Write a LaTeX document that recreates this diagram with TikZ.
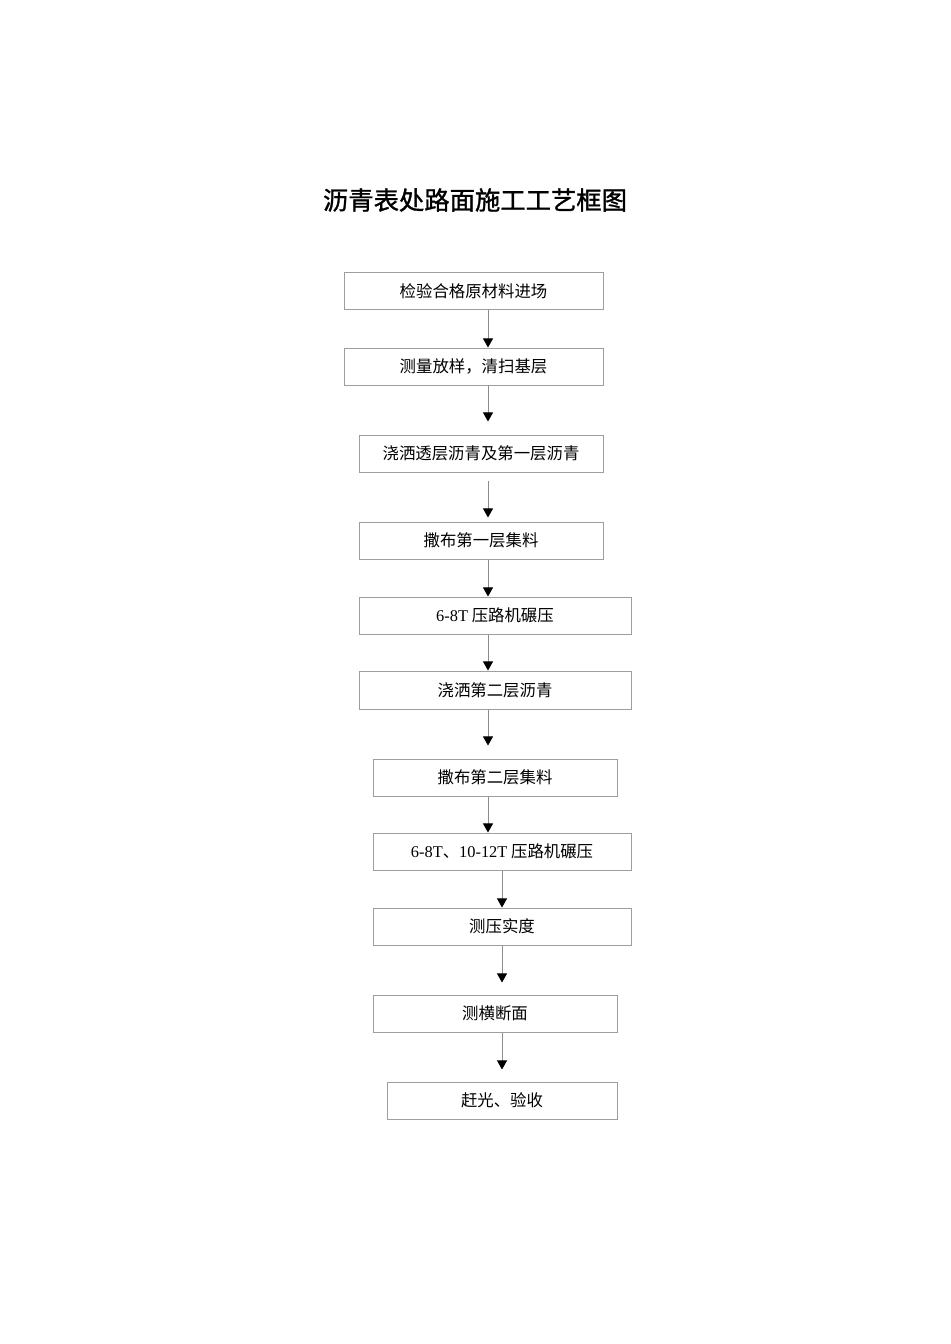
\documentclass[tikz,border=0pt]{standalone}
\usepackage{fontspec}
\setmainfont{Liberation Serif}
\newfontfamily\cjk{Noto Sans CJK SC}
\newfontfamily\cjktitle[FakeBold=1.2]{Noto Sans CJK SC}
\usetikzlibrary{arrows.meta}
\begin{document}
\begin{tikzpicture}[x=0.75pt,y=-0.75pt,
  stepbox/.style={draw=black!38,line width=0.75pt,inner sep=0pt,minimum height=37*0.75pt,
    font=\fontsize{12.3}{14}\selectfont\cjk},
  flow/.style={draw=black!45,line width=0.6pt,-{Triangle[length=6.8pt,width=7.5pt,fill=black,color=black]}}]
\useasboundingbox[fill=white] (0,0) rectangle (950,1344);
\node[font=\fontsize{19}{22}\selectfont\cjktitle] (title) at (475,200) {沥青表处路面施工工艺框图};
\coordinate (axA) at (488,0);
\coordinate (axB) at (502,0);
\node[stepbox,minimum width=259*0.75pt] (b1) at (473.5,291.5) {检验合格原材料进场};
\node[stepbox,minimum width=259*0.75pt] (b2) at (473.5,366.5) {测量放样，清扫基层};
\node[stepbox,minimum width=244*0.75pt] (b3) at (481,453.5) {浇洒透层沥青及第一层沥青};
\node[stepbox,minimum width=244*0.75pt] (b4) at (481,540.5) {撒布第一层集料};
\node[stepbox,minimum width=272*0.75pt] (b5) at (495,615.5) {{\rmfamily 6-8T} 压路机碾压};
\node[stepbox,minimum width=272*0.75pt,minimum height=38*0.75pt] (b6) at (495,690) {浇洒第二层沥青};
\node[stepbox,minimum width=244*0.75pt] (b7) at (495,777.5) {撒布第二层集料};
\node[stepbox,minimum width=258*0.75pt] (b8) at (502,851.5) {{\rmfamily 6-8T}、{\rmfamily 10-12T} 压路机碾压};
\node[stepbox,minimum width=258*0.75pt] (b9) at (502,926.5) {测压实度};
\node[stepbox,minimum width=244*0.75pt] (b10) at (495,1013.5) {测横断面};
\node[stepbox,minimum width=230*0.75pt] (b11) at (502,1100.5) {赶光、验收};
\draw[flow] (b1.south -| axA) -- (b2.north -| axA);
\draw[flow,shorten >=9.75pt] (b2.south -| axA) -- (b3.north -| axA);
\draw[flow,shorten <=6pt,shorten >=3pt] (b3.south -| axA) -- (b4.north -| axA);
\draw[flow] (b4.south -| axA) -- (b5.north -| axA);
\draw[flow] (b5.south -| axA) -- (b6.north -| axA);
\draw[flow,shorten >=9.75pt] (b6.south -| axA) -- (b7.north -| axA);
\draw[flow] (b7.south -| axA) -- (b8.north -| axA);
\draw[flow] (b8.south -| axB) -- (b9.north -| axB);
\draw[flow,shorten >=9pt] (b9.south -| axB) -- (b10.north -| axB);
\draw[flow,shorten >=9pt] (b10.south -| axB) -- (b11.north -| axB);
\end{tikzpicture}
\end{document}
